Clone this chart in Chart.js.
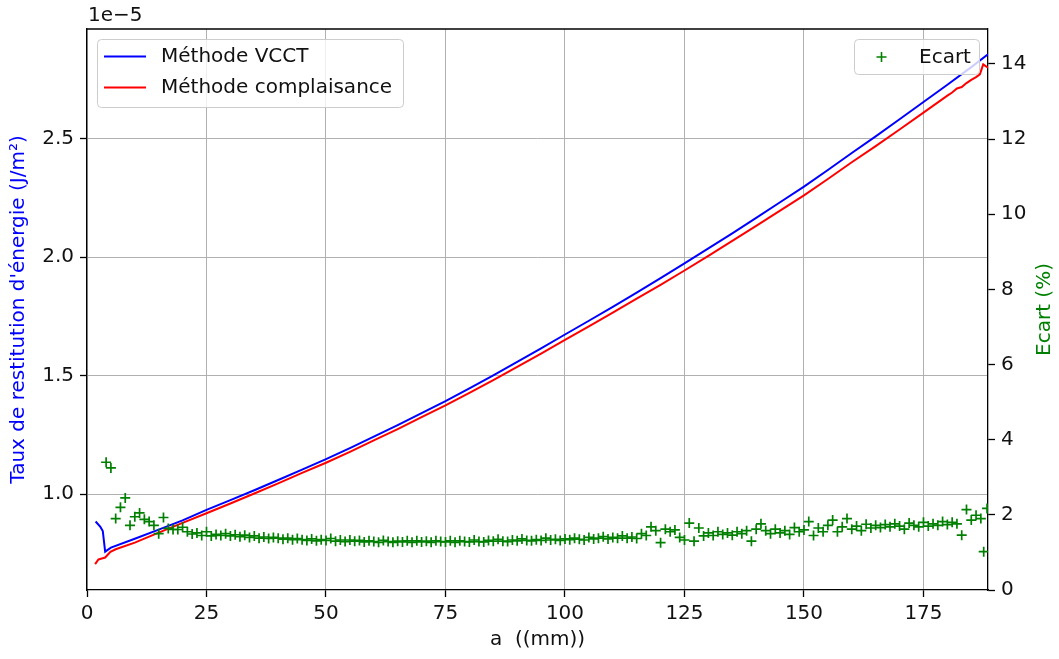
<!DOCTYPE html>
<html><head><meta charset="utf-8">
<script src="https://cdn.jsdelivr.net/npm/chart.js@4.4.1/dist/chart.umd.min.js"></script>
<style>html,body{margin:0;padding:0;background:#fff}canvas{display:block}</style>
</head><body>
<canvas id="c" width="1059" height="659"></canvas>
<script>
// a (mm) and energy release rate (x 1e-5 J/m²)
const vcctA = [1.8, 2.8, 3.3, 3.8, 5, 10, 15, 20, 25, 30, 35, 40, 45, 50, 55, 60, 65, 70, 75, 80, 85, 90, 95, 100, 105, 110, 115, 120, 125, 130, 135, 140, 145, 150, 155, 160, 165, 170, 175, 180, 185, 188.5];
const vcctG = [0.885, 0.862, 0.845, 0.758, 0.775, 0.812, 0.851, 0.890, 0.934, 0.975, 1.017, 1.060, 1.104, 1.148, 1.195, 1.243, 1.292, 1.342, 1.393, 1.447, 1.502, 1.558, 1.615, 1.674, 1.732, 1.791, 1.851, 1.912, 1.974, 2.037, 2.101, 2.166, 2.232, 2.298, 2.368, 2.440, 2.510, 2.582, 2.655, 2.728, 2.802, 2.856];
const complA = [1.7, 2.4, 3.1, 3.8, 4.9, 6, 10, 15, 20, 25, 30, 35, 40, 45, 50, 55, 60, 65, 70, 75, 80, 85, 90, 95, 100, 105, 110, 115, 120, 125, 130, 135, 140, 145, 150, 155, 160, 165, 170, 175, 180, 181, 182, 183, 184, 185, 186, 186.8, 187.5, 188.5];
const complG = [0.705, 0.725, 0.729, 0.733, 0.757, 0.768, 0.796, 0.838, 0.879, 0.920, 0.961, 1.003, 1.046, 1.090, 1.133, 1.179, 1.227, 1.275, 1.325, 1.375, 1.428, 1.482, 1.537, 1.593, 1.651, 1.708, 1.766, 1.825, 1.883, 1.944, 2.006, 2.069, 2.132, 2.197, 2.261, 2.330, 2.401, 2.469, 2.539, 2.610, 2.682, 2.695, 2.712, 2.718, 2.735, 2.748, 2.760, 2.772, 2.814, 2.800];
// Ecart (%)
const ecartA = [4,5,6,7,8,9,10,11,12,13,14,15,16,17,18,19,20,21,22,23,24,25,26,27,28,29,30,31,32,33,34,35,36,37,38,39,40,41,42,43,44,45,46,47,48,49,50,51,52,53,54,55,56,57,58,59,60,61,62,63,64,65,66,67,68,69,70,71,72,73,74,75,76,77,78,79,80,81,82,83,84,85,86,87,88,89,90,91,92,93,94,95,96,97,98,99,100,101,102,103,104,105,106,107,108,109,110,111,112,113,114,115,116,117,118,119,120,121,122,123,124,125,126,127,128,129,130,131,132,133,134,135,136,137,138,139,140,141,142,143,144,145,146,147,148,149,150,151,152,153,154,155,156,157,158,159,160,161,162,163,164,165,166,167,168,169,170,171,172,173,174,175,176,177,178,179,180,181,182,183,184,185,186,187,187.6,188.3];
const ecartE = [3.40,3.25,1.90,2.20,2.45,1.72,1.95,2.05,1.88,1.82,1.72,1.50,1.93,1.64,1.61,1.61,1.67,1.55,1.49,1.52,1.45,1.55,1.44,1.48,1.45,1.50,1.44,1.47,1.42,1.46,1.40,1.44,1.38,1.41,1.37,1.40,1.38,1.35,1.38,1.34,1.37,1.34,1.32,1.36,1.31,1.34,1.32,1.37,1.30,1.33,1.29,1.33,1.30,1.32,1.28,1.31,1.29,1.27,1.32,1.29,1.27,1.30,1.28,1.31,1.27,1.31,1.28,1.30,1.27,1.31,1.29,1.28,1.31,1.27,1.31,1.29,1.28,1.33,1.29,1.28,1.32,1.30,1.35,1.30,1.29,1.33,1.31,1.36,1.32,1.31,1.34,1.32,1.38,1.33,1.35,1.32,1.36,1.34,1.38,1.35,1.33,1.40,1.36,1.38,1.42,1.36,1.40,1.38,1.44,1.38,1.41,1.37,1.50,1.45,1.68,1.58,1.26,1.62,1.55,1.60,1.40,1.33,1.78,1.30,1.65,1.44,1.52,1.45,1.55,1.48,1.52,1.46,1.55,1.50,1.58,1.30,1.62,1.76,1.58,1.50,1.62,1.52,1.58,1.48,1.66,1.55,1.60,1.82,1.45,1.65,1.55,1.72,1.86,1.55,1.68,1.90,1.62,1.70,1.58,1.75,1.65,1.72,1.66,1.74,1.68,1.76,1.70,1.62,1.78,1.72,1.68,1.80,1.70,1.76,1.72,1.82,1.74,1.80,1.76,1.46,2.14,1.86,1.99,1.90,1.02,2.17];

const xTicks = [0, 25, 50, 75, 100, 125, 150, 175];
const yLeftTicks = [1.0, 1.5, 2.0, 2.5];
const yRightTicks = [0, 2, 4, 6, 8, 10, 12, 14];
const seriesNames = ['Méthode VCCT', 'Méthode complaisance', 'Ecart'];
const rightTitle = 'Ecart (%)';

const FONT = "'DejaVu Sans', sans-serif";
Chart.defaults.font.family = FONT;
Chart.defaults.font.size = 20;
Chart.defaults.color = '#111';

const pts = (xs, ys) => xs.map((x, i) => ({x: x, y: ys[i]}));

const deco = {
  id: 'deco',
  afterDatasetsDraw(chart) {
    const ctx = chart.ctx, a = chart.chartArea;
    ctx.save();
    // top spine
    ctx.strokeStyle = '#000'; ctx.lineWidth = 1.3;
    ctx.beginPath(); ctx.moveTo(a.left, a.top); ctx.lineTo(a.right, a.top); ctx.stroke();
    // offset text
    ctx.fillStyle = '#111'; ctx.font = "20px " + FONT;
    ctx.textBaseline = 'middle'; ctx.textAlign = 'left';
    ctx.fillText('1e\u22125', a.left + 1, 16);
    // right axis title (reads bottom to top)
    ctx.save();
    ctx.translate(1045, (a.top + a.bottom) / 2);
    ctx.rotate(-Math.PI / 2);
    ctx.textAlign = 'center'; ctx.fillStyle = '#008000';
    ctx.fillText(rightTitle, 0, 0);
    ctx.restore();
    // legend 1
    ctx.fillStyle = 'rgba(255,255,255,0.8)'; ctx.strokeStyle = '#cccccc'; ctx.lineWidth = 1;
    ctx.beginPath(); ctx.roundRect(97.5, 39.5, 306, 68, 4); ctx.fill(); ctx.stroke();
    ctx.lineWidth = 2;
    ctx.strokeStyle = '#0000ff'; ctx.beginPath(); ctx.moveTo(104, 56.5); ctx.lineTo(146, 56.5); ctx.stroke();
    ctx.strokeStyle = '#ff0000'; ctx.beginPath(); ctx.moveTo(104, 87.5); ctx.lineTo(146, 87.5); ctx.stroke();
    ctx.fillStyle = '#111';
    ctx.fillText(seriesNames[0], 161, 57);
    ctx.fillText(seriesNames[1], 161, 88);
    // legend 2
    ctx.fillStyle = 'rgba(255,255,255,0.8)'; ctx.strokeStyle = '#cccccc'; ctx.lineWidth = 1;
    ctx.beginPath(); ctx.roundRect(854.5, 39.5, 125, 35, 4); ctx.fill(); ctx.stroke();
    ctx.strokeStyle = '#008000'; ctx.lineWidth = 1.6;
    ctx.beginPath(); ctx.moveTo(876.5, 57); ctx.lineTo(886.5, 57); ctx.moveTo(881.5, 52); ctx.lineTo(881.5, 62); ctx.stroke();
    ctx.fillStyle = '#111';
    ctx.fillText(seriesNames[2], 919, 57.5);
    ctx.restore();
  }
};

new Chart(document.getElementById('c'), {
  type: 'scatter',
  data: {
    datasets: [
      {label: seriesNames[2], data: pts(ecartA, ecartE), yAxisID: 'y2', order: 0,
       pointStyle: 'cross', pointRadius: 5, pointBorderWidth: 1.7, borderColor: '#008000', backgroundColor: '#008000', showLine: false},
      {label: seriesNames[1], data: pts(complA, complG), yAxisID: 'y', order: 1,
       showLine: true, borderColor: '#ff0000', borderWidth: 2, pointRadius: 0, tension: 0},
      {label: seriesNames[0], data: pts(vcctA, vcctG), yAxisID: 'y', order: 2,
       showLine: true, borderColor: '#0000ff', borderWidth: 2, pointRadius: 0, tension: 0}
    ]
  },
  options: {
    responsive: false, animation: false,
    layout: {padding: {top: 29, left: 0, right: 0, bottom: 0}},
    plugins: {legend: {display: false}, tooltip: {enabled: false}},
    scales: {
      x: {
        type: 'linear', position: 'bottom', min: 0, max: 188.5,
        afterBuildTicks: s => { s.ticks = xTicks.map(v => ({value: v})); },
        afterFit: s => { s.height = 69; },
        grid: {color: '#b0b0b0', lineWidth: 1, tickColor: '#000', tickLength: 7, tickWidth: 1.3},
        border: {display: true, color: '#000', width: 1.3},
        ticks: {padding: 5, color: '#111', maxRotation: 0, callback: v => String(v)},
        title: {display: true, text: 'a  ((mm))', color: '#111', font: {size: 20}, padding: {top: 0, bottom: 7}}
      },
      y: {
        type: 'linear', position: 'left', min: 0.596, max: 2.963,
        afterBuildTicks: s => { s.ticks = yLeftTicks.map(v => ({value: v})); },
        afterFit: s => { s.width = 87; },
        grid: {color: '#b0b0b0', lineWidth: 1, tickColor: '#000', tickLength: 7, tickWidth: 1.3},
        border: {display: true, color: '#000', width: 1.3},
        ticks: {padding: 6, color: '#111', callback: v => v.toFixed(1)},
        title: {display: true, text: "Taux de restitution d'énergie (J/m²)", color: '#0000ff', font: {size: 20}, padding: {top: 7, bottom: 0}}
      },
      y2: {
        type: 'linear', position: 'right', min: 0, max: 14.93,
        afterBuildTicks: s => { s.ticks = yRightTicks.map(v => ({value: v})); },
        afterFit: s => { s.width = 71; },
        grid: {drawOnChartArea: false, color: '#000', tickColor: '#000', tickLength: 7, tickWidth: 1.3},
        border: {display: true, color: '#000', width: 1.3},
        ticks: {padding: 6, color: '#111', callback: v => String(v)},
        title: {display: false}
      }
    }
  },
  plugins: [deco]
});
</script>
</body></html>
